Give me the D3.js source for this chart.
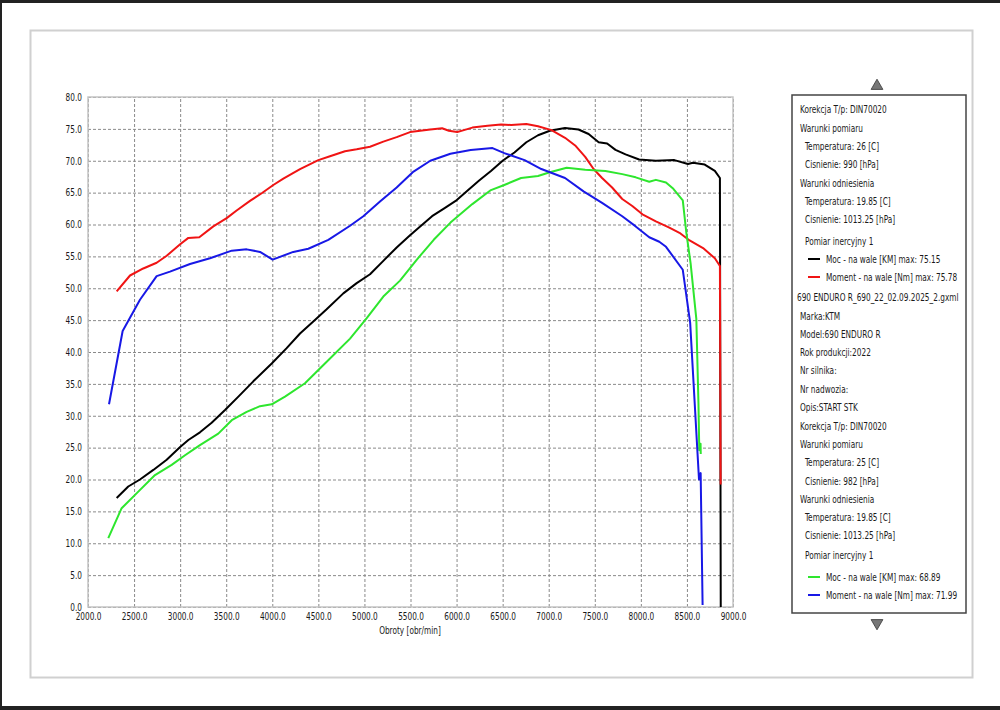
<!DOCTYPE html>
<html>
<head>
<meta charset="utf-8">
<script src="https://cdn.jsdelivr.net/npm/d3@7"></script>
<style>
  body { margin: 0; background: #fff; }
  text { font-family: "DejaVu Sans Condensed", "Liberation Sans", sans-serif; font-size: 10.5px; fill: #1a1a1a; }
</style>
</head>
<body>
<div id="chart"></div>
<script>
// run 1 (black = power, red = torque), run 2 (green = power, blue = torque)
var rpmMoc1 = [2311,2437,2564,2709,2854,3000,3089,3215,3342,3487,3632,3794,3994,4156,4301,4445,4590,4771,4916,5061,5205,5350,5495,5605,5734,5862,5990,6117,6245,6373,6500,6628,6757,6884,7012,7177,7323,7433,7542,7634,7725,7834,7981,8163,8364,8511,8565,8693,8803,8858,8867];
var moc1 = [17.1,18.9,20.0,21.5,23.1,25.1,26.2,27.4,28.9,30.9,33.0,35.4,38.2,40.6,42.9,44.8,46.7,49.2,50.8,52.2,54.3,56.4,58.3,59.7,61.3,62.5,63.7,65.3,66.9,68.4,70.0,71.3,72.9,74.0,74.7,75.15,74.9,74.2,72.9,72.7,71.7,71.0,70.2,70.0,70.1,69.5,69.7,69.4,68.4,67.3,0];

var rpmMoment1 = [2311,2456,2600,2745,2854,3000,3089,3208,3360,3505,3613,3758,3885,4011,4120,4301,4500,4626,4789,4916,5061,5205,5350,5495,5605,5715,5843,5916,6007,6080,6171,6336,6482,6592,6757,6884,7030,7177,7287,7396,7487,7579,7688,7798,7907,8017,8163,8309,8419,8529,8675,8803,8858,8866];
var moment1 = [49.5,52.0,53.1,54.0,55.1,56.9,57.9,58.0,59.7,61.0,62.2,63.7,64.9,66.2,67.2,68.7,70.1,70.7,71.5,71.8,72.2,73.0,73.7,74.5,74.7,74.9,75.1,74.7,74.5,74.8,75.2,75.5,75.7,75.6,75.78,75.4,74.8,73.6,72.4,70.6,68.7,67.3,65.8,64.0,62.9,61.6,60.5,59.5,58.7,57.5,56.3,54.7,53.5,19.2];

var rpmMoc2 = [2220,2365,2546,2727,2908,3053,3215,3414,3560,3722,3867,3994,4138,4355,4481,4662,4844,5025,5205,5386,5569,5752,5934,6171,6373,6518,6700,6884,7012,7195,7396,7615,7798,7944,8091,8163,8273,8346,8455,8492,8540,8602,8625,8634,8648,8650];
var moc2 = [10.8,15.5,18.1,20.7,22.3,23.8,25.4,27.2,29.3,30.6,31.5,31.8,33.0,35.1,36.9,39.5,42.1,45.3,48.7,51.2,54.5,57.6,60.3,63.2,65.4,66.2,67.3,67.6,68.2,68.89,68.6,68.4,67.9,67.4,66.7,67.0,66.6,65.7,63.8,58.9,53.9,45.2,32.0,24.6,25.6,24.0];

var rpmMoment2 = [2228,2376,2564,2745,2890,3107,3324,3560,3722,3867,4004,4228,4391,4608,4844,4988,5169,5350,5533,5715,5933,6153,6390,6518,6738,6920,7177,7378,7579,7798,7944,8091,8200,8273,8455,8535,8631,8649,8670];
var moment2 = [31.8,43.3,48.2,51.9,52.6,53.8,54.7,55.9,56.1,55.7,54.5,55.7,56.2,57.6,59.8,61.3,63.6,65.8,68.3,70.0,71.1,71.7,71.99,71.2,70.1,68.7,67.3,65.2,63.4,61.3,59.7,58.0,57.3,56.5,52.9,44.6,20.0,21.0,0.3];

var xTicks = [2000,2500,3000,3500,4000,4500,5000,5500,6000,6500,7000,7500,8000,8500,9000];
var yTicks = [0,5,10,15,20,25,30,35,40,45,50,55,60,65,70,75,80];
var xTitle = "Obroty [obr/min]";

var legendLines = [
  "Korekcja T/p: DIN70020", "Warunki pomiaru", " Temperatura: 26 [C]", " Cisnienie: 990 [hPa]",
  "Warunki odniesienia", " Temperatura: 19.85 [C]", " Cisnienie: 1013.25 [hPa]", " Pomiar inercyjny 1",
  "#Moc - na wale [KM] max: 75.15", "#Moment - na wale [Nm] max: 75.78",
  "690 ENDURO R_690_22_02.09.2025_2.gxml", "Marka:KTM", "Model:690 ENDURO R", "Rok produkcji:2022",
  "Nr silnika:", "Nr nadwozia:", "Opis:START STK", "Korekcja T/p: DIN70020", "Warunki pomiaru",
  " Temperatura: 25 [C]", " Cisnienie: 982 [hPa]", "Warunki odniesienia", " Temperatura: 19.85 [C]",
  " Cisnienie: 1013.25 [hPa]", " Pomiar inercyjny 1",
  "#Moc - na wale [KM] max: 68.89", "#Moment - na wale [Nm] max: 71.99"
];
var legendY = [109,128,146,164,183,201,219,241,259,277,297,316,334,352,370,389,407,426,444,462,481,499,517,535,555,577,595];

// drawing order: black, red on top of it, then green, blue
var series = [
  { rpm: rpmMoc1, val: moc1, color: "#000000" },
  { rpm: rpmMoment1, val: moment1, color: "#f01414" },
  { rpm: rpmMoc2, val: moc2, color: "#2ee62e" },
  { rpm: rpmMoment2, val: moment2, color: "#1818e6" }
];
var swatchColors = ["#000000", "#f01414", "#2ee62e", "#1818e6"];

var W = 1000, H = 710, squeeze = "scale(0.78,1)";
var svg = d3.select("#chart").append("svg").attr("width", W).attr("height", H);

// outer frame
svg.append("rect").attr("width", W).attr("height", H).attr("fill", "#fff");
svg.append("rect").attr("x", 0).attr("y", 0).attr("width", W).attr("height", 3).attr("fill", "#222");
svg.append("rect").attr("x", 0).attr("y", 0).attr("width", 2).attr("height", H).attr("fill", "#222");
svg.append("rect").attr("x", 0).attr("y", 706).attr("width", W).attr("height", 4).attr("fill", "#222");
svg.append("rect").attr("x", 30.5).attr("y", 30.5).attr("width", 942).attr("height", 647)
  .attr("fill", "#fff").attr("stroke", "#d0d0d0").attr("stroke-width", 2);

var x = d3.scaleLinear().domain([2000, 9000]).range([88, 733]);
var y = d3.scaleLinear().domain([0, 80]).range([607, 97]);

// grid
var gx = svg.append("g").attr("transform", "translate(0,607)")
  .call(d3.axisBottom(x).tickValues(xTicks).tickSize(-510).tickFormat(""));
var gy = svg.append("g").attr("transform", "translate(88,0)")
  .call(d3.axisLeft(y).tickValues(yTicks).tickSize(-645).tickFormat(""));
[gx, gy].forEach(function(g) {
  g.select(".domain").remove();
  g.selectAll("line").attr("stroke", "#8a8a8a").attr("stroke-dasharray", "3,2");
});

svg.append("rect").attr("x", 88).attr("y", 97).attr("width", 645).attr("height", 510)
  .attr("fill", "none").attr("stroke", "#c4c4c4").attr("stroke-width", 1.5);

// tick labels
var ax = svg.append("g").attr("transform", "translate(0,610)")
  .call(d3.axisBottom(x).tickValues(xTicks).tickSize(0).tickFormat(d3.format(".1f")));
ax.select(".domain").remove();
ax.selectAll("text").attr("dy", "0.71em").attr("transform", squeeze).style("fill", "#1a1a1a");

var ay = svg.append("g").attr("transform", "translate(82,0)")
  .call(d3.axisLeft(y).tickValues(yTicks).tickSize(0).tickFormat(d3.format(".1f")));
ay.select(".domain").remove();
ay.selectAll("text").attr("x", 0).attr("transform", squeeze).style("fill", "#1a1a1a");

svg.append("text").attr("transform", "translate(410,634) " + squeeze)
  .attr("text-anchor", "middle").text(xTitle);

// curves
var line = d3.line().x(function(d) { return x(d[0]); }).y(function(d) { return y(d[1]); });
series.forEach(function(s) {
  svg.append("path")
    .datum(d3.zip(s.rpm, s.val))
    .attr("d", line)
    .attr("fill", "none")
    .attr("stroke", s.color)
    .attr("stroke-width", 2)
    .attr("stroke-linejoin", "round");
});

// legend panel
svg.append("rect").attr("x", 792).attr("y", 95).attr("width", 174).attr("height", 518)
  .attr("fill", "#fff").attr("stroke", "#444").attr("stroke-width", 1.5);

var sw = 0;
legendLines.forEach(function(t, i) {
  var ly = legendY[i];
  if (t[0] === "#") {
    svg.append("line").attr("x1", 808).attr("x2", 820).attr("y1", ly).attr("y2", ly)
      .attr("stroke", swatchColors[sw++]).attr("stroke-width", 2);
    svg.append("text").attr("transform", "translate(826," + ly + ") " + squeeze)
      .attr("dy", "0.35em").text(t.slice(1));
  } else {
    var ind = t[0] === " " ? 805 : (t.indexOf("690 ENDURO R_") === 0 ? 797 : 800);
    svg.append("text").attr("transform", "translate(" + ind + "," + ly + ") " + squeeze)
      .attr("dy", "0.35em").text(t.trim());
  }
});

// scroll arrows
var tri = d3.symbol().type(d3.symbolTriangle).size(60);
svg.append("path").attr("d", tri).attr("transform", "translate(877,86)")
  .attr("fill", "#777").attr("stroke", "#333").attr("stroke-width", 0.8);
svg.append("path").attr("d", tri).attr("transform", "translate(877,623) rotate(180)")
  .attr("fill", "#777").attr("stroke", "#333").attr("stroke-width", 0.8);
</script>
</body>
</html>
